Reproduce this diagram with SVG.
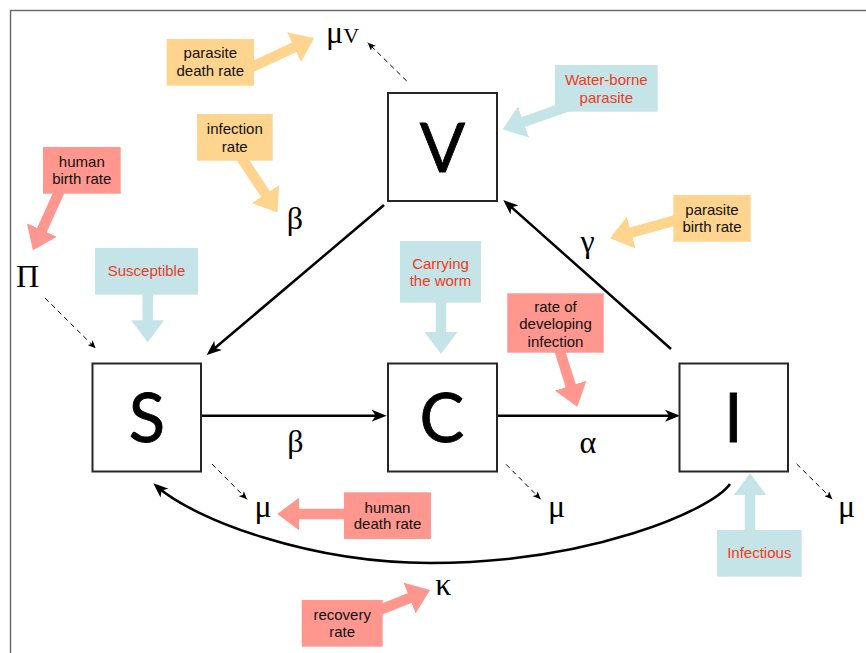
<svg xmlns="http://www.w3.org/2000/svg" width="866" height="653" viewBox="0 0 866 653">
<defs>
<style>
.node rect{fill:#fff;stroke:#262626;stroke-width:2}
.big{font-family:Lato,"Open Sans","DejaVu Sans",sans-serif;font-size:67px;fill:#000;stroke:#000;stroke-width:0.8;text-anchor:middle}
.greek{font-family:"Liberation Serif","DejaVu Serif",serif;font-size:32px;fill:#000;text-anchor:middle}
.greek.st{text-anchor:start}
.lbl{font-family:"Liberation Sans",Arial,sans-serif;font-size:15px;text-anchor:middle}
.dark{fill:#111}
.red{fill:#f03a1c}
.yel{fill:#ffd48e}
.pink{fill:#ff978f}
.blue{fill:#c5e4e8}
.flow{stroke:#000;stroke-width:2.5;fill:none;marker-end:url(#ah)}
.dash{stroke:#000;stroke-width:1;stroke-dasharray:5,4;fill:none;marker-end:url(#dh)}
.ya{stroke:#ffd48e;stroke-width:10.5;marker-end:url(#hy)}
.pa{stroke:#ff978f;stroke-width:10.5;marker-end:url(#hp)}
.ba{stroke:#c5e4e8;stroke-width:10.5;marker-end:url(#hb)}
</style>
<marker id="ah" viewBox="0 0 15 12" markerWidth="15" markerHeight="12" refX="10" refY="6" orient="auto" markerUnits="userSpaceOnUse"><path d="M0,0 L15,6 L0,12 L4,6 z" fill="#000"/></marker>
<marker id="dh" viewBox="0 0 8 7" markerWidth="8" markerHeight="7" refX="8" refY="3.5" orient="auto" markerUnits="userSpaceOnUse"><path d="M0,0 L8,3.5 L0,7 L2,3.5 z" fill="#000"/></marker>
<marker id="hy" viewBox="0 0 22 33" markerWidth="22" markerHeight="33" refX="2" refY="16.5" orient="auto" markerUnits="userSpaceOnUse"><path d="M0,0 L22,16.5 L0,33 z" fill="#ffd48e"/></marker>
<marker id="hp" viewBox="0 0 22 33" markerWidth="22" markerHeight="33" refX="2" refY="16.5" orient="auto" markerUnits="userSpaceOnUse"><path d="M0,0 L22,16.5 L0,33 z" fill="#ff978f"/></marker>
<marker id="hb" viewBox="0 0 22 33" markerWidth="22" markerHeight="33" refX="2" refY="16.5" orient="auto" markerUnits="userSpaceOnUse"><path d="M0,0 L22,16.5 L0,33 z" fill="#c5e4e8"/></marker>
</defs>
<rect x="0" y="0" width="866" height="653" fill="#fff"/>
<rect x="10.5" y="10.5" width="900" height="700" fill="none" stroke="#666" stroke-width="1.4"/>

<g id="connectors">
<line class="flow" x1="384" y1="205" x2="210.5" y2="351.8"/>
<line class="flow" x1="201" y1="415.7" x2="381.7" y2="415.7"/>
<line class="flow" x1="497" y1="415.7" x2="675" y2="415.7"/>
<line class="flow" x1="671" y1="349" x2="507" y2="203.3"/>
<path class="flow" stroke-width="2.8" d="M730,484 C712,510 590,563 430,563 C310,563 195,520 157,486.5"/>
<line class="dash" x1="45" y1="298" x2="95.7" y2="348.3"/>
<line class="dash" x1="212" y1="464" x2="247" y2="499.3"/>
<line class="dash" x1="506" y1="464.3" x2="540.7" y2="499.3"/>
<line class="dash" x1="796.7" y1="464" x2="832.3" y2="499.3"/>
<line class="dash" x1="406.7" y1="81" x2="367.7" y2="42.7"/>
</g>

<g id="node-V" class="node"><rect x="388" y="93" width="109" height="108"/><text class="big" x="442.5" y="171.7">V</text></g>
<g id="node-S" class="node"><rect x="92.5" y="363.5" width="108.5" height="108"/><text class="big" x="147" y="441.7">S</text></g>
<g id="node-C" class="node"><rect x="388" y="363.5" width="109" height="108"/><text class="big" x="442" y="441.7">C</text></g>
<g id="node-I" class="node"><rect x="679.5" y="363.5" width="108.5" height="108"/><text class="big" x="733.5" y="441.7">I</text></g>

<g id="params">
<text class="greek st" x="326" y="42.5"><tspan>μ</tspan><tspan font-size="22">V</tspan></text>
<text class="greek" x="295" y="229">β</text>
<text class="greek" x="295.5" y="452">β</text>
<text class="greek" x="588" y="453">α</text>
<text class="greek" x="587.5" y="252">γ</text>
<text class="greek" x="263" y="517">μ</text>
<text class="greek" x="556.7" y="517">μ</text>
<text class="greek" x="846.5" y="517">μ</text>
<text class="greek" x="443.3" y="595">κ</text>
<text class="greek" x="27.5" y="286.7">Π</text>
</g>

<g id="note-parasite-death-rate">
<line class="ya" x1="250" y1="67.8" x2="295.9" y2="46.4"/>
<rect class="yel" x="166.7" y="39" width="87.3" height="46.7"/>
<text class="lbl dark" x="210.3" y="58.3">parasite</text>
<text class="lbl dark" x="210.3" y="76">death rate</text>
</g>
<g id="note-infection-rate">
<line class="ya" x1="241" y1="157" x2="266.5" y2="195.7"/>
<rect class="yel" x="197" y="114" width="75.7" height="46.7"/>
<text class="lbl dark" x="234.8" y="134.3">infection</text>
<text class="lbl dark" x="234.8" y="151.7">rate</text>
</g>
<g id="note-human-birth-rate">
<line class="pa" x1="60" y1="190" x2="41.1" y2="231.9"/>
<rect class="pink" x="43" y="147" width="77.7" height="46.7"/>
<text class="lbl dark" x="81.8" y="166.7">human</text>
<text class="lbl dark" x="81.8" y="184.3">birth rate</text>
</g>
<g id="note-water-borne">
<line class="ba" x1="570" y1="105.5" x2="521.6" y2="122.6"/>
<rect class="blue" x="555" y="65" width="102.7" height="46.7"/>
<text class="lbl red" x="606.3" y="85">Water-borne</text>
<text class="lbl red" x="606.3" y="102.7">parasite</text>
</g>
<g id="note-parasite-birth-rate">
<line class="ya" x1="678" y1="219.6" x2="629.3" y2="233"/>
<rect class="yel" x="673.3" y="195" width="77.4" height="46.7"/>
<text class="lbl dark" x="712" y="215">parasite</text>
<text class="lbl dark" x="712" y="232.3">birth rate</text>
</g>
<g id="note-susceptible">
<line class="ba" x1="147.7" y1="292" x2="147.7" y2="322.3"/>
<rect class="blue" x="95" y="248" width="103" height="46.7"/>
<text class="lbl red" x="146.5" y="276">Susceptible</text>
</g>
<g id="note-carrying">
<line class="ba" x1="441" y1="300" x2="441" y2="334"/>
<rect class="blue" x="400" y="241" width="81" height="61.7"/>
<text class="lbl red" x="440.5" y="269">Carrying</text>
<text class="lbl red" x="440.5" y="286">the worm</text>
</g>
<g id="note-developing">
<line class="pa" x1="559.5" y1="350" x2="571.3" y2="387.6"/>
<rect class="pink" x="507.3" y="293.3" width="96.4" height="59.4"/>
<text class="lbl dark" x="555.5" y="311.7">rate of</text>
<text class="lbl dark" x="555.5" y="329.3">developing</text>
<text class="lbl dark" x="555.5" y="346.5">infection</text>
</g>
<g id="note-human-death-rate">
<line class="pa" x1="348" y1="514" x2="297.3" y2="514"/>
<rect class="pink" x="344" y="492.3" width="87" height="46.7"/>
<text class="lbl dark" x="387.5" y="512.7">human</text>
<text class="lbl dark" x="387.5" y="529.3">death rate</text>
</g>
<g id="note-recovery-rate">
<line class="pa" x1="378" y1="610.6" x2="411.4" y2="597.3"/>
<rect class="pink" x="301.7" y="600" width="81" height="46.7"/>
<text class="lbl dark" x="342.2" y="620">recovery</text>
<text class="lbl dark" x="342.2" y="636.7">rate</text>
</g>
<g id="note-infectious">
<line class="ba" x1="750" y1="533" x2="750" y2="493.3"/>
<rect class="blue" x="717" y="530" width="84.7" height="46.7"/>
<text class="lbl red" x="759.3" y="558.3">Infectious</text>
</g>
</svg>
